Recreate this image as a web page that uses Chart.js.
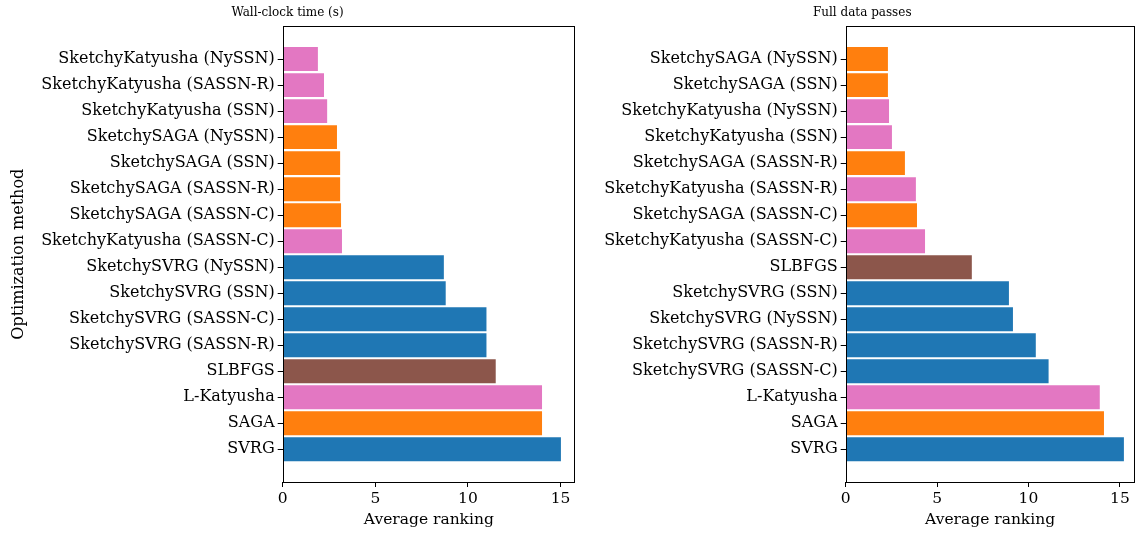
<!DOCTYPE html>
<html>
<head>
<meta charset="utf-8">
<script src="https://cdn.jsdelivr.net/npm/chart.js@4"></script>
<style>
  body { margin: 0; background: #fff; width: 1135px; height: 534px; position: relative; overflow: hidden; }
  .box { position: absolute; top: 0; height: 534px; }
</style>
</head>
<body>
<div class="box" style="left:0;width:580px"><canvas id="wall"></canvas></div>
<div class="box" style="left:590px;width:545px"><canvas id="passes"></canvas></div>
<script>
// methods listed bottom -> top, as matplotlib barh draws them
const wallLabels = [
    'SVRG', 'SAGA', 'L-Katyusha', 'SLBFGS',
    'SketchySVRG (SASSN-R)', 'SketchySVRG (SASSN-C)', 'SketchySVRG (SSN)', 'SketchySVRG (NySSN)',
    'SketchyKatyusha (SASSN-C)', 'SketchySAGA (SASSN-C)', 'SketchySAGA (SASSN-R)', 'SketchySAGA (SSN)',
    'SketchySAGA (NySSN)', 'SketchyKatyusha (SSN)', 'SketchyKatyusha (SASSN-R)', 'SketchyKatyusha (NySSN)'
];
const wallValues = [15.02, 14.0, 14.0, 11.5, 11.0, 11.0, 8.8, 8.7, 3.2, 3.15, 3.1, 3.1, 2.93, 2.4, 2.23, 1.9];

const passLabels = [
    'SVRG', 'SAGA', 'L-Katyusha', 'SketchySVRG (SASSN-C)',
    'SketchySVRG (SASSN-R)', 'SketchySVRG (NySSN)', 'SketchySVRG (SSN)', 'SLBFGS',
    'SketchyKatyusha (SASSN-C)', 'SketchySAGA (SASSN-C)', 'SketchyKatyusha (SASSN-R)', 'SketchySAGA (SASSN-R)',
    'SketchyKatyusha (SSN)', 'SketchyKatyusha (NySSN)', 'SketchySAGA (SSN)', 'SketchySAGA (NySSN)'
];
const passValues = [15.22, 14.13, 13.9, 11.1, 10.4, 9.15, 8.93, 6.9, 4.34, 3.9, 3.84, 3.24, 2.53, 2.37, 2.31, 2.31];

const xTicks = [0, 5, 10, 15];

const FONT = "'DejaVu Serif', 'Liberation Serif', serif";

function colorFor(name) {
    if (name.includes('SLBFGS')) return '#8c564b';
    if (name.includes('Katyusha')) return '#e377c2';
    if (name.includes('SAGA')) return '#ff7f0e';
    return '#1f77b4';
}

const frame = {
    id: 'frame',
    afterDraw(c) {
        const a = c.chartArea, ctx = c.ctx;
        ctx.save();
        ctx.strokeStyle = '#000';
        ctx.lineWidth = 1;
        ctx.strokeRect(Math.round(a.left) + 0.5, Math.round(a.top) + 0.5,
            Math.round(a.right - a.left) - 1, Math.round(a.bottom - a.top));
        ctx.restore();
    }
};

function makeChart(id, title, labels, values, yWidth, xMax, showYTitle, padRight) {
    const n = labels.length;
    return new Chart(document.getElementById(id), {
        type: 'bar',
        plugins: [frame],
        data: {
            datasets: [{
                data: values.map((v, i) => ({ x: v, y: i })),
                backgroundColor: labels.map(colorFor),
                borderWidth: 0,
                categoryPercentage: 1,
                barPercentage: 0.92
            }]
        },
        options: {
            indexAxis: 'y',
            responsive: true,
            maintainAspectRatio: false,
            animation: false,
            layout: { padding: { left: 0, right: padRight, top: 0, bottom: 0 } },
            plugins: {
                legend: { display: false },
                tooltip: { enabled: false },
                title: {
                    display: true,
                    text: title,
                    color: '#000',
                    font: { family: FONT, size: 12, weight: 'normal' },
                    padding: { top: 6, bottom: 6 }
                }
            },
            scales: {
                x: {
                    type: 'linear',
                    min: 0,
                    max: xMax,
                    afterBuildTicks: s => { s.ticks = xTicks.map(v => ({ value: v })); },
                    afterFit: s => { s.height = 52; },
                    grid: { drawOnChartArea: false, drawTicks: true, tickLength: 5, color: '#000' },
                    border: { display: false },
                    ticks: { color: '#000', padding: 3, font: { family: FONT, size: 15.5 } },
                    title: {
                        display: true, text: 'Average ranking', color: '#000',
                        font: { family: FONT, size: 15.5 }, padding: { top: 2, bottom: 5 }
                    }
                },
                y: {
                    type: 'linear',
                    min: -1.256,
                    max: n - 1 + 1.256,
                    offset: false,
                    afterBuildTicks: s => { s.ticks = labels.map((_, i) => ({ value: i })); },
                    afterFit: s => { s.width = yWidth; },
                    grid: { offset: false, drawOnChartArea: false, drawTicks: true, tickLength: 5, color: '#000' },
                    border: { display: false },
                    ticks: {
                        color: '#000', padding: 3, autoSkip: false,
                        font: { family: FONT, size: 16 },
                        callback: v => labels[v]
                    },
                    title: {
                        display: showYTitle, text: 'Optimization method', color: '#000',
                        font: { family: FONT, size: 16 }, padding: { top: 9, bottom: 0 }
                    }
                }
            }
        }
    });
}

makeChart('wall', 'Wall-clock time (s)', wallLabels, wallValues, 282.7, 15.78, true, 5);
makeChart('passes', 'Full data passes', passLabels, passValues, 255.7, 15.8, false, 0.5);
</script>
</body>
</html>
